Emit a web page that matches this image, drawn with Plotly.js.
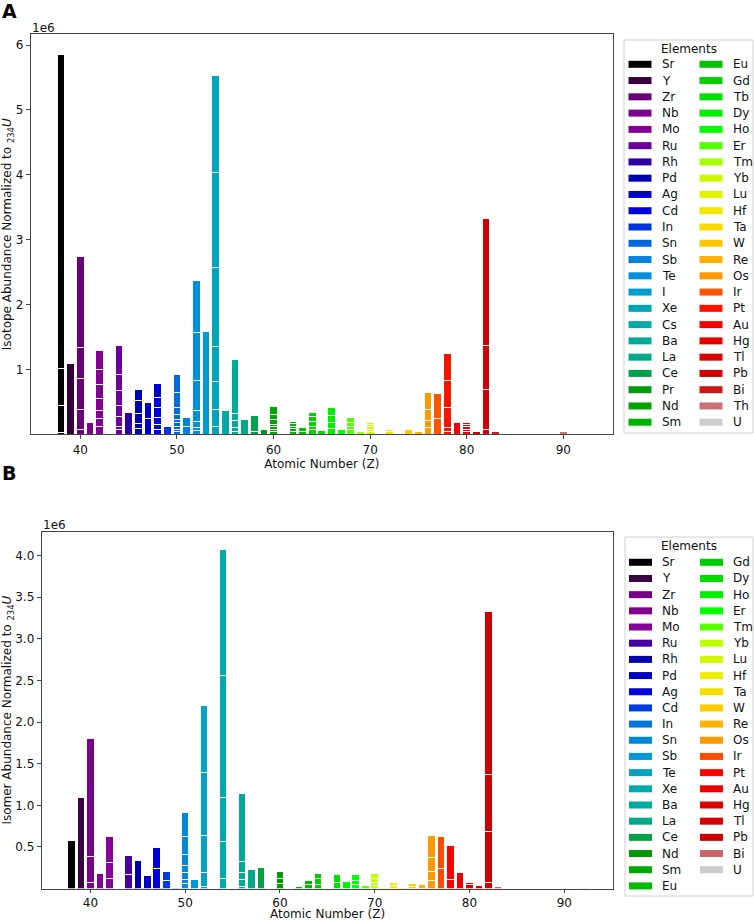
<!DOCTYPE html>
<html>
<head>
<meta charset="utf-8">
<script src="https://cdn.plot.ly/plotly-3.0.1.min.js"></script>
<style>
  html, body { margin: 0; padding: 0; background: #fff; }
  #graph { width: 754px; height: 921px; }
</style>
</head>
<body>
<div id="graph"></div>
<script>
// Panel A: isotope abundance, values in units of 1e6, segments bottom -> top
const elementsA = ['Sr','Y','Zr','Nb','Mo','Ru','Rh','Pd','Ag','Cd','In','Sn','Sb','Te','I','Xe','Cs','Ba','La','Ce','Pr','Nd','Sm',
                   'Eu','Gd','Tb','Dy','Ho','Er','Tm','Yb','Lu','Hf','Ta','W','Re','Os','Ir','Pt','Au','Hg','Tl','Pb','Bi','Th','U'];
const atomicA = [38,39,40,41,42,44,45,46,47,48,49,50,51,52,53,54,55,56,57,58,59,60,62,
                 63,64,65,66,67,68,69,70,71,72,73,74,75,76,77,78,79,80,81,82,83,90,92];
const isotopesA = [
    [0.03, 0.41, 0.576, 4.844],
    [1.093],
    [0.07, 0.31, 0.476, 0.484, 1.407],
    [0.188],
    [0.122, 0.117, 0.123, 0.196, 0.211, 0.221, 0.308],
    [0.065, 0.051, 0.154, 0.17, 0.237, 0.251, 0.432],
    [0.332],
    [0.085, 0.077, 0.154, 0.211, 0.165],
    [0.245, 0.251],
    [0.075, 0.077, 0.102, 0.15, 0.165, 0.22],
    [0.126],
    [0.04, 0.035, 0.051, 0.047, 0.057, 0.076, 0.108, 0.232, 0.272],
    [0.116, 0.149],
    [0.054, 0.052, 0.093, 0.169, 0.457, 0.746, 0.795],
    [1.591],
    [0.126, 0.258, 0.426, 0.539, 1.218, 1.46, 1.51],
    [0.365],
    [0.049, 0.057, 0.102, 0.114, 0.822],
    [0.224],
    [0.04, 0.241],
    [0.08],
    [0.045, 0.03, 0.041, 0.041, 0.073, 0.081, 0.119],
    [0.049, 0.036, 0.037, 0.04, 0.041],
    [0.049, 0.047],
    [0.065, 0.057, 0.071, 0.077, 0.072],
    [0.054],
    [0.085, 0.092, 0.108, 0.119],
    [0.08],
    [0.065, 0.057, 0.061, 0.067],
    [0.034],
    [0.045, 0.035, 0.036, 0.036, 0.031],
    [0.018],
    [0.045, 0.03],
    [0.004],
    [0.065],
    [0.049],
    [0.106, 0.108, 0.17, 0.266],
    [0.239, 0.391],
    [0.049, 0.057, 0.308, 0.417, 0.416],
    [0.188],
    [0.049, 0.031, 0.036, 0.036, 0.031],
    [0.04],
    [0.065, 0.627, 0.673, 1.963],
    [0.034],
    [0.035],
    [0.012]
];

// Panel B: isomer abundance, values in units of 1e6
const elementsB = ['Sr','Y','Zr','Nb','Mo','Ru','Rh','Pd','Ag','Cd','In','Sn','Sb','Te','Xe','Ba','La','Ce','Nd','Sm','Eu',
                   'Gd','Dy','Ho','Er','Tm','Yb','Lu','Hf','Ta','W','Re','Os','Ir','Pt','Au','Hg','Tl','Pb','Bi','U'];
const atomicB = [38,39,40,41,42,44,45,46,47,48,49,50,51,52,54,56,57,58,60,62,63,
                 64,66,67,68,69,70,71,72,73,74,75,76,77,78,79,80,81,82,83,92];
const isomersB = [
    [0.576],
    [1.092],
    [0.075, 0.308, 1.418],
    [0.187],
    [0.124, 0.187, 0.313],
    [0.172, 0.228],
    [0.335],
    [0.155],
    [0.244, 0.247],
    [0.103, 0.097],
    [0.006],
    [0.063, 0.052, 0.081, 0.079, 0.133, 0.22, 0.288],
    [0.111],
    [0.023, 0.168, 0.449, 0.757, 0.801],
    [0.124, 0.44, 0.536, 1.466, 1.514],
    [0.023, 0.084, 0.084, 0.132, 0.817],
    [0.227],
    [0.256],
    [0.06, 0.065, 0.075],
    [0.027],
    [0.052, 0.048],
    [0.055, 0.069, 0.059],
    [0.079, 0.096],
    [0.083],
    [0.047, 0.053, 0.067],
    [0.035],
    [0.043, 0.036, 0.04, 0.068],
    [0.019],
    [0.04, 0.035],
    [0.004],
    [0.03, 0.037],
    [0.052],
    [0.103, 0.104, 0.169, 0.264],
    [0.239, 0.393],
    [0.112, 0.408],
    [0.191],
    [0.047, 0.032],
    [0.04],
    [0.075, 0.613, 0.685, 1.962],
    [0.027],
    [0.006]
];

const xTicks = [40, 50, 60, 70, 80, 90];
const yTicksA = [1, 2, 3, 4, 5, 6];
const yTicksB = [0.5, 1.0, 1.5, 2.0, 2.5, 3.0, 3.5, 4.0];

// matplotlib nipy_spectral colormap
const NS_R = [0,0.4667,0.5333,0,0,0,0,0,0,0,0,0,0,0.7333,0.9333,1,1,1,0.8667,0.8,0.8];
const NS_G = [0,0,0,0,0,0.4667,0.6,0.6667,0.6667,0.6,0.7333,0.8667,1,1,0.9333,0.8,0.6,0,0,0,0.8];
const NS_B = [0,0.5333,0.6,0.6667,0.8667,0.8667,0.8667,0.6667,0.5333,0,0,0,0,0,0,0,0,0,0,0,0.8];
function nipy(t) {
    let s = t * 20;
    let i = Math.min(Math.floor(s), 19);
    let f = s - i;
    let c = [NS_R, NS_G, NS_B].map(a => Math.round(255 * (a[i] + (a[i+1] - a[i]) * f)));
    return 'rgb(' + c.join(',') + ')';
}
function palette(n) {
    let out = [];
    for (let i = 0; i < n; i++) out.push(nipy(i / (n - 1)));
    return out;
}

const W = 754, H = 921;
const px = v => v / W;
const py = v => 1 - v / H;
const FONT = 'DejaVu Sans';

// one trace per stack level, so each bar is split into its isotopes
function stackTraces(atomic, segs, colors, xa, ya) {
    let depth = Math.max(...segs.map(s => s.length));
    let traces = [];
    for (let k = 0; k < depth; k++) {
        let x = [], y = [], c = [];
        segs.forEach((s, i) => {
            if (k < s.length) { x.push(atomic[i]); y.push(s[k]); c.push(colors[i]); }
        });
        traces.push({
            type: 'bar', x: x, y: y, width: 0.8,
            xaxis: xa, yaxis: ya, showlegend: false,
            marker: {color: c, line: {color: 'white', width: 1}},
            hoverinfo: 'x+y'
        });
    }
    return traces;
}

// legend drawn as shapes + annotations (two columns, matplotlib style)
function legendItems(names, colors, box, shapes, annotations) {
    shapes.push({type: 'rect', xref: 'paper', yref: 'paper',
        x0: px(box.x0), x1: px(box.x1), y0: py(box.y0), y1: py(box.y1),
        line: {color: '#d0d0d0', width: 1}, fillcolor: 'rgba(255,255,255,0.8)'});
    annotations.push({xref: 'paper', yref: 'paper', x: px((box.x0 + box.x1) / 2), y: py(box.titleY),
        text: 'Elements', showarrow: false, xanchor: 'center', yanchor: 'middle',
        font: {family: FONT, size: 12, color: '#111'}});
    let nRows = Math.ceil(names.length / 2);
    names.forEach((n, i) => {
        let col = Math.floor(i / nRows), row = i % nRows;
        let yc = box.rowY + row * box.dy;
        let sx = col === 0 ? box.sw0 : box.sw1;
        shapes.push({type: 'rect', xref: 'paper', yref: 'paper',
            x0: px(sx), x1: px(sx + 23), y0: py(yc - 3.5), y1: py(yc + 3.5),
            line: {width: 0}, fillcolor: colors[i]});
        annotations.push({xref: 'paper', yref: 'paper', x: px(sx + 31), y: py(yc),
            text: n, showarrow: false, xanchor: 'left', yanchor: 'middle',
            font: {family: FONT, size: 12, color: '#111'}});
    });
}

const colorsA = palette(elementsA.length);
const colorsB = palette(elementsB.length);

let data = stackTraces(atomicA, isotopesA, colorsA, 'x', 'y')
    .concat(stackTraces(atomicB, isomersB, colorsB, 'x2', 'y2'));

let shapes = [];
let annotations = [
    {xref: 'paper', yref: 'paper', x: px(0), y: py(11), text: '<b>A</b>', showarrow: false,
     xanchor: 'left', yanchor: 'middle', font: {family: FONT, size: 19, color: '#000'}},
    {xref: 'paper', yref: 'paper', x: px(0), y: py(473), text: '<b>B</b>', showarrow: false,
     xanchor: 'left', yanchor: 'middle', font: {family: FONT, size: 19, color: '#000'}},
    {xref: 'paper', yref: 'paper', x: px(30), y: py(28), text: '1e6', showarrow: false,
     xanchor: 'left', yanchor: 'middle', font: {family: FONT, size: 12, color: '#111'}},
    {xref: 'paper', yref: 'paper', x: px(41), y: py(525), text: '1e6', showarrow: false,
     xanchor: 'left', yanchor: 'middle', font: {family: FONT, size: 12, color: '#111'}},
    // panel B x title sits right at the bottom edge, as in the figure
    {xref: 'paper', yref: 'paper', x: px((41.7 + 613) / 2), y: 0, text: 'Atomic Number (Z)', showarrow: false,
     xanchor: 'center', yanchor: 'bottom', borderpad: 0, yshift: -1,
     font: {family: FONT, size: 12, color: '#111'}}
];
legendItems(elementsA, colorsA, {x0: 624, x1: 753, y0: 40, y1: 433, titleY: 49, rowY: 64.3, dy: 16.27, sw0: 628.5, sw1: 699.5}, shapes, annotations);
legendItems(elementsB, colorsB, {x0: 625, x1: 753, y0: 537, y1: 896, titleY: 546, rowY: 562.3, dy: 16.18, sw0: 629, sw1: 700}, shapes, annotations);

const axisCommon = {
    showgrid: false, zeroline: false, showline: true, mirror: true,
    linecolor: '#444', linewidth: 1, ticks: 'outside', ticklen: 4, tickwidth: 1, tickcolor: '#444',
    tickfont: {family: FONT, size: 12, color: '#111'}
};

let layout = {
    width: W, height: H,
    margin: {l: 0, r: 0, t: 0, b: 0},
    paper_bgcolor: 'white', plot_bgcolor: 'white',
    barmode: 'stack', bargap: 0,
    showlegend: false,
    font: {family: FONT, size: 12, color: '#111'},
    xaxis: Object.assign({}, axisCommon, {
        domain: [px(30.7), px(613)], range: [34.86, 95.14], anchor: 'y',
        tickvals: xTicks, ticktext: xTicks.map(String),
        title: {text: 'Atomic Number (Z)', font: {family: FONT, size: 12, color: '#111'}, standoff: 4}
    }),
    yaxis: Object.assign({}, axisCommon, {
        domain: [py(434.2), py(34.3)], range: [0, 6.165], anchor: 'x',
        tickvals: yTicksA, ticktext: yTicksA.map(String),
        title: {text: 'Isotope Abundance Normalized to <sub>234</sub><i>U</i>', font: {family: FONT, size: 12, color: '#111'}, standoff: 6}
    }),
    xaxis2: Object.assign({}, axisCommon, {
        domain: [px(41.7), px(613)], range: [34.86, 95.14], anchor: 'y2',
        ticklen: 3, tickvals: xTicks, ticktext: xTicks.map(String)
    }),
    yaxis2: Object.assign({}, axisCommon, {
        domain: [py(888.6), py(531.7)], range: [0, 4.288], anchor: 'x2',
        tickvals: yTicksB, ticktext: yTicksB.map(v => v.toFixed(1)),
        title: {text: 'Isomer Abundance Normalized to <sub>234</sub><i>U</i>', font: {family: FONT, size: 12, color: '#111'}, standoff: 6}
    }),
    shapes: shapes,
    annotations: annotations
};

Plotly.newPlot('graph', data, layout, {staticPlot: true});
</script>
</body>
</html>
